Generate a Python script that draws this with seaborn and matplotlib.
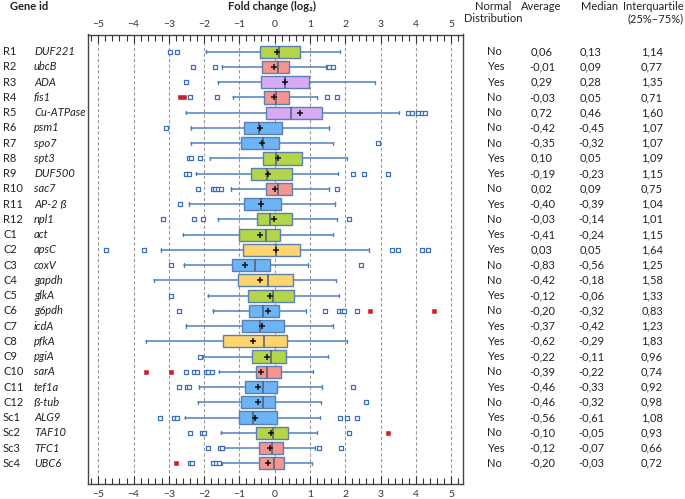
import numpy as np
import pandas as pd
import matplotlib
matplotlib.use("Agg")
import matplotlib.pyplot as plt
import matplotlib.transforms as mtransforms
from matplotlib.ticker import MultipleLocator
import seaborn as sns

# Gene rows
gene_ids = ["R1", "R2", "R3", "R4", "R5", "R6", "R7", "R8", "R9", "R10", "R11", "R12",
            "C1", "C2", "C3", "C4", "C5", "C6", "C7", "C8", "C9", "C10", "C11", "C12",
            "Sc1", "Sc2", "Sc3", "Sc4"]
gene_names = ["DUF221", "ubcB", "ADA", "fis1", "Cu-ATPase", "psm1", "spo7", "spt3",
              "DUF500", "sac7", "AP-2 ß", "npl1", "act", "apsC", "coxV", "gapdh",
              "glkA", "g6pdh", "icdA", "pfkA", "pgiA", "sarA", "tef1a", "ß-tub",
              "ALG9", "TAF10", "TFC1", "UBC6"]
box_group = ["green", "pink", "purple", "pink", "purple", "blue", "blue", "green",
             "green", "pink", "blue", "green", "green", "yellow", "blue", "yellow",
             "green", "blue", "blue", "yellow", "green", "pink", "blue", "blue",
             "blue", "green", "pink", "pink"]

# Table columns
normal_dist = ["No", "Yes", "Yes", "No", "No", "No", "No", "Yes", "Yes", "No", "Yes", "No",
               "Yes", "Yes", "No", "No", "Yes", "No", "Yes", "Yes", "Yes", "No", "Yes", "No",
               "Yes", "No", "Yes", "No"]
average = [0.06, -0.01, 0.29, -0.03, 0.72, -0.42, -0.35, 0.10, -0.19, 0.02, -0.40, -0.03,
           -0.41, 0.03, -0.83, -0.42, -0.12, -0.20, -0.37, -0.62, -0.22, -0.39, -0.46, -0.46,
           -0.56, -0.10, -0.12, -0.20]
median = [0.13, 0.09, 0.28, 0.05, 0.46, -0.45, -0.32, 0.05, -0.23, 0.09, -0.39, -0.14,
          -0.24, 0.05, -0.56, -0.18, -0.06, -0.32, -0.42, -0.29, -0.11, -0.22, -0.33, -0.32,
          -0.61, -0.05, -0.07, -0.03]
interquartile = [1.14, 0.77, 1.35, 0.71, 1.60, 1.07, 1.07, 1.09, 1.15, 0.75, 1.04, 1.01,
                 1.15, 1.64, 1.25, 1.58, 1.33, 0.83, 1.23, 1.83, 0.96, 0.74, 0.92, 0.98,
                 1.08, 0.93, 0.66, 0.72]

# Box / whisker extents
q1 = [-0.43, -0.37, -0.39, -0.30, -0.24, -0.88, -0.95, -0.32, -0.66, -0.24, -0.88, -0.51,
      -1.00, -0.90, -1.20, -1.05, -0.77, -0.72, -0.94, -1.47, -0.63, -0.53, -0.84, -0.95,
      -1.01, -0.53, -0.44, -0.44]
q3 = [0.71, 0.40, 0.96, 0.42, 1.35, 0.20, 0.13, 0.77, 0.50, 0.50, 0.17, 0.50,
      0.15, 0.73, -0.12, 0.52, 0.56, 0.11, 0.27, 0.34, 0.31, 0.19, 0.08, 0.02,
      0.06, 0.39, 0.23, 0.27]
whisker_lo = [-1.95, -1.50, -1.61, -1.19, -2.51, -2.37, -2.37, -1.84, -2.22, -1.23, -2.44, -1.61,
              -2.61, -3.22, -2.56, -3.42, -1.90, -1.76, -2.51, -3.66, -2.04, -1.57, -2.14, -2.18,
              -2.53, -1.51, -1.43, -1.48]
whisker_hi = [1.85, 1.45, 2.85, 1.21, 3.52, 1.53, 1.64, 2.04, 1.79, 1.55, 1.71, 1.77,
              1.64, 2.68, 0.95, 1.75, 1.81, 0.89, 1.64, 2.04, 1.51, 1.09, 1.33, 1.31,
              1.28, 1.19, 1.15, 1.07]

# Outliers (hollow squares) and extreme values (red squares)
outliers = [
    [-2.98, -2.76],
    [-2.31, -1.70, 1.55, 1.66],
    [-2.52],
    [-2.40, -1.63, 1.49, 1.77],
    [3.77, 3.88, 4.06, 4.17, 4.27],
    [-3.08],
    [2.93],
    [-2.44, -2.36, -2.11],
    [-2.51, -2.42, 2.21, 2.53, 3.21],
    [-2.17, -1.75, -1.68, -1.60, -1.52, 1.78],
    [-2.67],
    [-3.16, -2.30, -2.04, 2.10],
    [],
    [-4.79, -3.71, 3.32, 3.49, 4.19, 4.36],
    [-2.95, 2.45],
    [],
    [-2.94],
    [-2.70, 1.42, 1.82, 1.90, 1.97, 2.34],
    [],
    [],
    [-2.11],
    [-2.51, -2.28, -2.20, -1.95, -1.90, -1.78],
    [-2.70, -2.48, -2.42, 2.22],
    [2.60],
    [-3.24, -2.84, -2.77, 1.85, 2.05, 2.34],
    [-2.39, -2.06, -2.01, 2.12],
    [-1.90, -1.54, -1.49, 1.25, 1.87],
    [-2.39, -2.34, -1.76, -1.66, -1.59],
]
extremes = [
    [], [], [], [-2.69, -2.57], [], [], [], [], [], [], [], [],
    [], [], [], [], [], [2.71, 4.53], [], [], [], [-3.66, -2.95], [], [],
    [], [3.21], [], [-2.79],
]

palette = {"green": "#b4d548", "pink": "#f4958f", "purple": "#d8aaf4",
           "blue": "#6cb4f6", "yellow": "#fdd56c"}

sns.set_style("white")
plt.rcParams['font.family'] = ['Lato', 'DejaVu Sans']

W, H = 685, 499
fig = plt.figure(figsize=(W / 100, H / 100), dpi=100)
ax = fig.add_axes([87.7 / W, 1 - 484 / H, (462.7 - 87.7) / W, (484 - 34.5) / H])

n = len(gene_ids)
pos = list(range(n))

stats = []
for i in range(n):
    stats.append({"med": median[i], "q1": q1[i], "q3": q3[i],
                  "whislo": whisker_lo[i], "whishi": whisker_hi[i], "fliers": []})

edge = "#5b7fb3"
bp = ax.bxp(stats, positions=pos, widths=0.8, orientation="horizontal",
            patch_artist=True, showfliers=False, capwidths=0.22,
            boxprops=dict(edgecolor=edge, linewidth=1.0),
            medianprops=dict(color="#4a5f7c", linewidth=1.1),
            whiskerprops=dict(color="#4f81bd", linewidth=1.1),
            capprops=dict(color="#4f81bd", linewidth=1.0))
for patch, g in zip(bp["boxes"], box_group):
    patch.set_facecolor(palette[g])
    patch.set_zorder(3)
for ln in bp["medians"]:
    ln.set_zorder(4)

# outlier points
out_df = pd.DataFrame([(v, i) for i, vals in enumerate(outliers) for v in vals],
                      columns=["value", "row"])
ext_df = pd.DataFrame([(v, i) for i, vals in enumerate(extremes) for v in vals],
                      columns=["value", "row"])
mean_df = pd.DataFrame({"value": average, "row": pos})

sns.scatterplot(data=out_df, x="value", y="row", marker="s", s=11, color="white",
                edgecolor="#3e6fb8", linewidth=0.9, ax=ax, zorder=5, legend=False)
sns.scatterplot(data=ext_df, x="value", y="row", marker="s", s=9, color="#c8202a",
                edgecolor="#c8202a", linewidth=0.4, ax=ax, zorder=5, legend=False)
sns.scatterplot(data=mean_df, x="value", y="row", marker="+", s=14, color="#111111",
                linewidth=1.1, ax=ax, zorder=6, legend=False)

ax.set_xlim(-5.3, 5.33)
ax.set_ylim(n - 1 + 1.36, -1.13)
ax.set_xticks(range(-5, 6))
ax.xaxis.set_minor_locator(MultipleLocator(0.2))
ax.set_yticks([])
ax.set_xlabel("")
ax.set_ylabel("")
ax.tick_params(axis="x", which="both", direction="in", top=True, bottom=True,
               labeltop=True, labelbottom=True, color="#333333")
ax.tick_params(axis="x", which="major", length=6, width=0.8, labelsize=7.5,
               labelcolor="#333333", pad=4)
ax.tick_params(axis="x", which="minor", length=4, width=0.8)
ax.grid(axis="x", which="major", linestyle=(0, (3, 2)), color="#9a9a9a", linewidth=0.8)
ax.set_axisbelow(True)
for sp in ax.spines.values():
    sp.set_color("#444444")
    sp.set_linewidth(1.0)

# left labels and right table, x in figure pixels, y in data rows
tr = mtransforms.blended_transform_factory(fig.transFigure, ax.transData)
fs = 8
tc = "#222222"
for i in range(n):
    ax.text(3 / W, i, gene_ids[i], transform=tr, fontsize=fs, color=tc,
            ha="left", va="center", clip_on=False)
    ax.text(34 / W, i, gene_names[i], transform=tr, fontsize=fs, color=tc,
            style="italic", ha="left", va="center", clip_on=False)
    ax.text(487 / W, i, normal_dist[i], transform=tr, fontsize=fs, color=tc,
            ha="left", va="center", clip_on=False)
    ax.text(542 / W, i, f"{average[i]:.2f}".replace(".", ","), transform=tr,
            fontsize=fs, color=tc, ha="center", va="center", clip_on=False)
    ax.text(591 / W, i, f"{median[i]:.2f}".replace(".", ","), transform=tr,
            fontsize=fs, color=tc, ha="center", va="center", clip_on=False)
    ax.text(652 / W, i, f"{interquartile[i]:.2f}".replace(".", ","), transform=tr,
            fontsize=fs, color=tc, ha="center", va="center", clip_on=False)

# headers
hy1 = 1 - 6 / H
hy2 = 1 - 19 / H
fig.text(10 / W, hy1, "Gene id", fontsize=fs, fontweight="bold", color=tc, va="center")
fig.text(272 / W, hy1, "Fold change (log\u2082)", fontsize=fs, fontweight="bold",
         color=tc, ha="center", va="center")
fig.text(493 / W, hy1, "Normal", fontsize=fs, color=tc, ha="center", va="center")
fig.text(493 / W, hy2, "Distribution", fontsize=fs, color=tc, ha="center", va="center")
fig.text(541 / W, hy1, "Average", fontsize=fs, color=tc, ha="center", va="center")
fig.text(600 / W, hy1, "Median", fontsize=fs, color=tc, ha="center", va="center")
fig.text(653 / W, hy1, "Interquartile", fontsize=fs, color=tc, ha="center", va="center")
fig.text(656 / W, hy2, "(25%\u201375%)", fontsize=fs, color=tc, ha="center", va="center")

fig.savefig("out.png", dpi=100)
